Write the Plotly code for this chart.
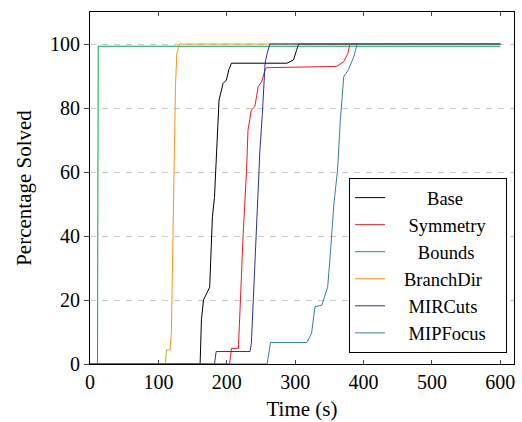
import plotly.graph_objects as go

# ---- data ----
base_t = [0, 161, 163, 166, 175, 179, 182, 185, 188.7, 194.6, 199.5, 203, 207, 288, 297.5, 302, 305, 600]
base_v = [0, 0, 14, 20, 24, 46, 52, 65, 82.5, 87.7, 88.75, 92, 94, 94, 95, 98, 100, 100]

sym_t = [0, 204, 207, 217, 220, 224, 229, 231, 236, 241, 246, 251, 256, 258, 361, 371, 377, 380, 600]
sym_v = [0, 0, 4.9, 4.9, 20, 40.8, 61, 73, 79.4, 80.4, 86.7, 88.2, 91.9, 92.6, 93, 94.5, 97, 100, 100]

bounds_t = [0, 11, 12, 600]
bounds_v = [0, 0, 99.3, 99.3]

branch_t = [0, 110, 112, 117, 119, 120.5, 122.5, 125, 127, 131, 600]
branch_v = [0, 0, 4.4, 4.4, 10, 30, 67, 87, 97, 100, 100]

mir_t = [0, 182, 184.5, 234, 236, 241, 244.6, 248.5, 252, 256, 259, 263, 600]
mir_v = [0, 0, 3.9, 3.9, 6.5, 30, 51, 67, 78, 94, 97, 100, 100]

mip_t = [0, 259, 264, 317, 324, 329, 339, 342.6, 347.5, 351.5, 356.6, 362, 366, 371, 378, 385.7, 390.7, 600]
mip_v = [0, 0, 6.7, 6.7, 9.6, 17.9, 18.4, 21, 24, 34.6, 50, 60.6, 76, 89.8, 92, 96, 100, 100]

names = ["Base", "Symmetry", "Bounds", "BranchDir", "MIRCuts", "MIPFocus"]
colors = ["#000000", "#ec1c24", "#00a651", "#f7941d", "#2e3192", "#3a7e9b"]
series = [(base_t, base_v), (sym_t, sym_v), (bounds_t, bounds_v),
          (branch_t, branch_v), (mir_t, mir_v), (mip_t, mip_v)]

x_ticks = [0, 100, 200, 300, 400, 500, 600]
y_ticks = [0, 20, 40, 60, 80, 100]

FONT = "Liberation Serif"
NB = "\u00a0"

# leading/trailing non-breaking spaces to centre legend text like the reference
lead = {"Base": 8, "Symmetry": 4, "Bounds": 6, "BranchDir": 3, "MIRCuts": 4, "MIPFocus": 4}
trail = {"Base": 0, "Symmetry": 3, "Bounds": 0, "BranchDir": 4, "MIRCuts": 0, "MIPFocus": 3}

fig = go.Figure()
for (t, v), n, c in zip(series, names, colors):
    fig.add_trace(go.Scatter(x=t, y=v, mode="lines",
                             name=NB * lead[n] + n + NB * trail[n],
                             line=dict(color=c, width=1)))

fig.update_layout(
    width=522, height=422,
    margin=dict(l=90, r=8, t=12, b=58),
    paper_bgcolor="white", plot_bgcolor="white",
    font=dict(family=FONT, size=20, color="black"),
    legend=dict(x=0.611, y=0.031, xanchor="left", yanchor="bottom",
                bordercolor="black", borderwidth=1, bgcolor="white",
                font=dict(family=FONT, size=18.5), tracegroupgap=0,
                itemwidth=30),
    xaxis=dict(range=[0, 620], tickvals=x_ticks, showgrid=False, zeroline=False,
               showline=True, linecolor="black", linewidth=1, mirror="ticks",
               ticks="inside", ticklen=4, tickcolor="#444", automargin=False,
               title=dict(text="Time (s)", font=dict(family=FONT, size=21), standoff=9)),
    yaxis=dict(range=[0, 110], tickvals=y_ticks, showgrid=True, gridcolor="#c8c8c8",
               griddash="6px,6px", gridwidth=1, zeroline=False,
               showline=True, linecolor="black", linewidth=1, mirror=True,
               ticks="outside", ticklen=5, tickcolor="#444", automargin=False,
               title=dict(text="Percentage Solved", font=dict(family=FONT, size=21), standoff=12)),
)

fig.write_html("out.html", config={"displayModeBar": False},
               post_script="document.body.style.margin='0';")
